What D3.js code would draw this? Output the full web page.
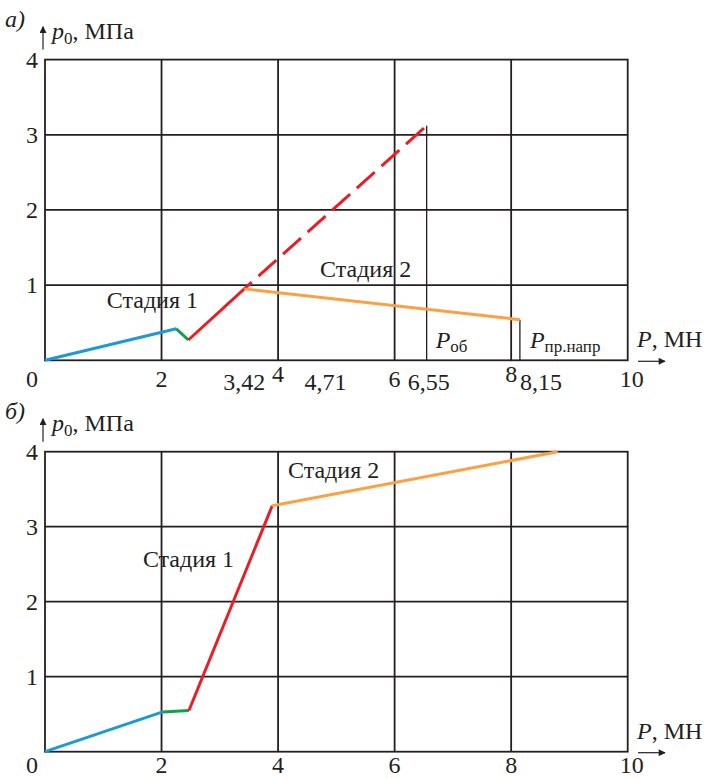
<!DOCTYPE html>
<html>
<head>
<meta charset="utf-8">
<script src="https://cdn.jsdelivr.net/npm/d3@7"></script>
<style>
  body { margin: 0; background: #fff; }
  svg text { font-family: "Liberation Serif", "Times New Roman", serif; fill: #231f20; }
</style>
</head>
<body>
<svg id="chart" width="706" height="779"></svg>
<script>
// chart data
const xTicks = [0, 2, 4, 6, 8, 10];
const yTicks = [0, 1, 2, 3, 4];

// panel a)
const aBlue = [[0, 0], [2.25, 0.42]];
const aGreen = [[2.25, 0.42], [2.46, 0.27]];
const aRed = [[2.46, 0.27], [3.42, 0.95]];
const aRedDash = [[3.42, 0.95], [6.55, 3.12]];
const aOrange = [[3.42, 0.95], [8.15, 0.54]];
const aMarks = [3.42, 4.71, 6.55, 8.15];
const aMarkLabels = ["3,42", "4,71", "6,55", "8,15"];
const aVLines = [[6.55, 3.12], [8.15, 0.54]];

// panel б)
const bBlue = [[0, 0], [2.02, 0.53]];
const bGreen = [[2.02, 0.53], [2.47, 0.55]];
const bRed = [[2.47, 0.55], [3.9, 3.28]];
const bOrange = [[3.9, 3.28], [8.8, 4.0]];

const colors = { blue: "#1b9ad7", green: "#13a04c", red: "#ec1c24", orange: "#f9a243" };
const ink = "#231f20";

const svg = d3.select("#chart").attr("font-family", "'Liberation Serif', serif");

const defs = svg.append("defs");
defs.append("marker")
  .attr("id", "arr")
  .attr("viewBox", "0 0 10 10")
  .attr("refX", 9).attr("refY", 5)
  .attr("markerWidth", 9).attr("markerHeight", 7)
  .attr("markerUnits", "userSpaceOnUse")
  .attr("orient", "auto")
  .append("path").attr("d", "M0,0 L10,5 L0,10 Z").attr("fill", ink);

const x = d3.scaleLinear().domain([0, 10]).range([45, 627.7]);

function panel(top, bottom, letter) {
  const y = d3.scaleLinear().domain([0, 4]).range([bottom, top]);
  const g = svg.append("g");

  // grid
  g.selectAll(".vg").data(xTicks.slice(1, -1)).join("line")
    .attr("x1", d => x(d)).attr("x2", d => x(d))
    .attr("y1", y(0)).attr("y2", y(4))
    .attr("stroke", ink).attr("stroke-width", 1.8);
  g.selectAll(".hg").data(yTicks.slice(1, -1)).join("line")
    .attr("x1", x(0)).attr("x2", x(10))
    .attr("y1", d => y(d)).attr("y2", d => y(d))
    .attr("stroke", ink).attr("stroke-width", 1.8);
  g.append("rect")
    .attr("x", x(0)).attr("y", y(4))
    .attr("width", x(10) - x(0)).attr("height", y(0) - y(4))
    .attr("fill", "none").attr("stroke", ink).attr("stroke-width", 1.8);

  // y tick labels
  g.selectAll(".yl").data(yTicks.slice(1)).join("text")
    .attr("x", x(0) - 7).attr("y", d => y(d) + 8)
    .attr("text-anchor", "end").attr("font-size", 24)
    .text(d => d);

  // panel letter
  g.append("text")
    .attr("x", 5).attr("y", top - 33)
    .attr("font-size", 24).attr("font-style", "italic").text(letter);

  // y axis title
  g.append("line")
    .attr("x1", 43).attr("x2", 43)
    .attr("y1", top - 10).attr("y2", top - 33)
    .attr("stroke", ink).attr("stroke-width", 1.2)
    .attr("marker-end", "url(#arr)");
  const yt = g.append("text").attr("x", 52).attr("y", top - 21).attr("font-size", 24);
  yt.append("tspan").attr("font-style", "italic").text("p");
  yt.append("tspan").attr("font-size", 17).attr("dy", 5).text("0");
  yt.append("tspan").attr("dy", -5).text(", МПа");

  // x axis title
  const xt = g.append("text").attr("x", 637).attr("y", bottom - 13).attr("font-size", 24);
  xt.append("tspan").attr("font-style", "italic").text("P");
  xt.append("tspan").text(", МН");
  g.append("line")
    .attr("x1", 638).attr("x2", 665)
    .attr("y1", bottom + 1).attr("y2", bottom + 1)
    .attr("stroke", ink).attr("stroke-width", 1.2)
    .attr("marker-end", "url(#arr)");

  return { g, y };
}

function seg(g, y, data, color, dash) {
  const line = d3.line().x(d => x(d[0])).y(d => y(d[1]));
  const p = g.append("path")
    .attr("d", line(data))
    .attr("fill", "none")
    .attr("stroke", color)
    .attr("stroke-width", 3)
    .attr("stroke-linecap", "butt");
  if (dash) p.attr("stroke-dasharray", dash).attr("stroke-dashoffset", 14);
  return p;
}

function xLabels(g, ticks, ys) {
  g.selectAll(null).data(ticks).join("text")
    .attr("x", d => d === 0 ? x(0) - 13 : x(d) + (d === 10 ? 4 : 0))
    .attr("y", ys)
    .attr("text-anchor", "middle").attr("font-size", 24)
    .text(d => d);
}

// ---- panel a)
const A = panel(59.6, 360.3, "а)");
xLabels(A.g, xTicks.filter(d => d !== 4 && d !== 8), A.y(0) + 27);
xLabels(A.g, [4, 8], A.y(0) + 22);

A.g.selectAll(".vl").data(aVLines).join("line")
  .attr("x1", d => x(d[0])).attr("x2", d => x(d[0]))
  .attr("y1", A.y(0)).attr("y2", d => A.y(d[1]))
  .attr("stroke", ink).attr("stroke-width", 1.3);

A.g.selectAll(".ml").data(aMarks).join("text")
  .attr("x", (d, i) => x(d) + [0, 6, 2, 0][i])
  .attr("y", A.y(0) + 30)
  .attr("text-anchor", (d, i) => i === 3 ? "start" : "middle")
  .attr("font-size", 24)
  .text((d, i) => aMarkLabels[i]);

seg(A.g, A.y, aRedDash, colors.red, "24 9");
seg(A.g, A.y, aBlue, colors.blue);
seg(A.g, A.y, aGreen, colors.green);
seg(A.g, A.y, aRed, colors.red);
seg(A.g, A.y, aOrange, colors.orange);

A.g.append("text").attr("x", x(1.06)).attr("y", A.y(0.7)).attr("font-size", 24).text("Стадия 1");
A.g.append("text").attr("x", x(4.72)).attr("y", A.y(1.11)).attr("font-size", 24).text("Стадия 2");

const pob = A.g.append("text").attr("x", x(6.55) + 9).attr("y", A.y(0) - 12).attr("font-size", 24);
pob.append("tspan").attr("font-style", "italic").text("P");
pob.append("tspan").attr("font-size", 17).attr("dy", 4).text("об");
const pnp = A.g.append("text").attr("x", x(8.15) + 10).attr("y", A.y(0) - 12).attr("font-size", 24);
pnp.append("tspan").attr("font-style", "italic").text("P");
pnp.append("tspan").attr("font-size", 17).attr("dy", 4).text("пр.напр");

// ---- panel б)
const B = panel(451.7, 751.7, "б)");
xLabels(B.g, xTicks, B.y(0) + 21);

seg(B.g, B.y, bBlue, colors.blue);
seg(B.g, B.y, bGreen, colors.green);
seg(B.g, B.y, bRed, colors.red);
seg(B.g, B.y, bOrange, colors.orange);

B.g.append("text").attr("x", x(1.68)).attr("y", B.y(2.46)).attr("font-size", 24).text("Стадия 1");
B.g.append("text").attr("x", x(4.17)).attr("y", B.y(3.65)).attr("font-size", 24).text("Стадия 2");
</script>
</body>
</html>
